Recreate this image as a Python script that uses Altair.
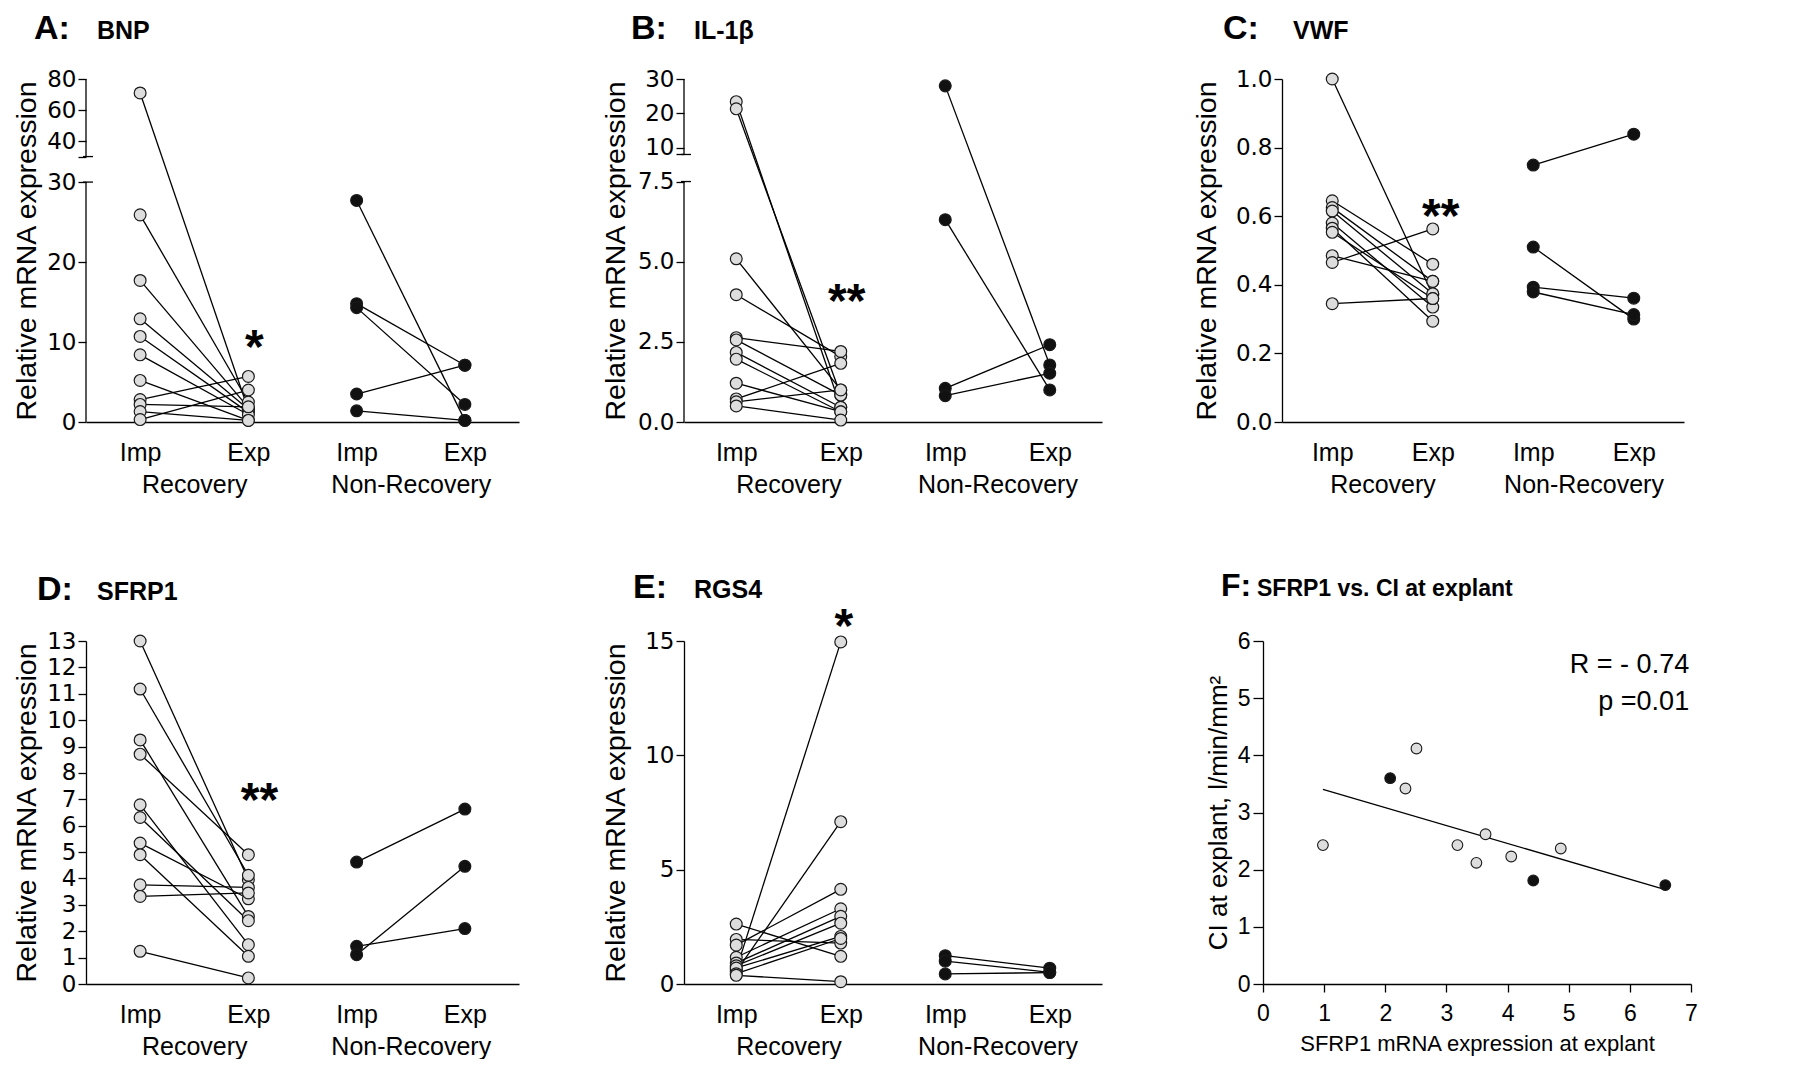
import altair as alt
import pandas as pd

FONT = "Liberation Sans"
TICKFONT = "DejaVu Sans"

# ---------------- data ----------------
time_labels = ["Imp", "Exp"]
group_labels = ["Recovery", "Non-Recovery"]

# A: BNP
bnp_rec_imp = [71, 25.9, 17.7, 12.9, 10.7, 8.4, 5.2, 2.8, 2.2, 1.3, 0.3]
bnp_rec_exp = [1.5, 2.5, 1.8, 1.6, 1.2, 0.9, 0.2, 5.7, 1.9, 0.2, 4.0]
bnp_nr_imp = [27.7, 14.8, 14.3, 3.5, 1.4]
bnp_nr_exp = [0.2, 7.1, 2.2, 7.1, 0.2]

# B: IL-1beta
il_rec_imp = [23.4, 21.3, 5.09, 3.97, 2.63, 2.56, 2.17, 1.96, 1.21, 0.72, 0.63, 0.5]
il_rec_exp = [0.46, 0.84, 1.0, 2.04, 2.2, 0.84, 0.46, 0.32, 0.32, 1.83, 1.0, 0.06]
il_nr_imp = [28, 6.31, 1.05, 0.82]
il_nr_exp = [1.78, 1.0, 2.41, 1.52]

# C: VWF
vwf_rec_imp = [1.0, 0.645, 0.625, 0.615, 0.58, 0.565, 0.553, 0.485, 0.465, 0.345]
vwf_rec_exp = [0.37, 0.46, 0.41, 0.374, 0.335, 0.294, 0.36, 0.41, 0.563, 0.36]
vwf_nr_imp = [0.749, 0.51, 0.393, 0.379]
vwf_nr_exp = [0.839, 0.30, 0.361, 0.313]

# D: SFRP1
sfrp_rec_imp = [13.0, 11.18, 9.25, 8.71, 6.79, 6.31, 5.34, 4.9, 3.76, 3.32, 1.24]
sfrp_rec_exp = [3.95, 4.12, 2.56, 4.9, 1.49, 2.4, 3.23, 1.05, 3.66, 3.45, 0.23]
sfrp_nr_imp = [4.62, 1.43, 1.11]
sfrp_nr_exp = [6.63, 2.1, 4.46]

# E: RGS4
rgs_rec_imp = [0.63, 0.55, 2.62, 1.95, 1.7, 1.17, 0.92, 0.8, 0.7, 0.45, 0.38]
rgs_rec_exp = [14.96, 7.1, 1.21, 1.79, 4.14, 3.29, 2.96, 2.66, 2.08, 1.99, 0.1]
rgs_nr_imp = [1.24, 1.0, 0.44]
rgs_nr_exp = [0.69, 0.51, 0.5]

# F: SFRP1 vs CI
f_sfrp = [0.98, 2.08, 2.33, 2.51, 3.18, 3.49, 3.64, 4.06, 4.87, 4.42, 6.58]
f_ci = [2.43, 3.60, 3.42, 4.12, 2.43, 2.12, 2.62, 2.23, 2.37, 1.81, 1.73]
f_group = ["Recovery", "Non-Recovery", "Recovery", "Recovery", "Recovery", "Recovery",
           "Recovery", "Recovery", "Recovery", "Non-Recovery", "Non-Recovery"]
f_stats = ["R = - 0.74", "p =0.01"]
f_stats_pos_x = [6.97, 6.97]
f_stats_pos_y = [5.44, 4.79]

panel_letters = ["A:", "B:", "C:", "D:", "E:", "F:"]
panel_genes = ["BNP", "IL-1\u03b2", "VWF", "SFRP1", "RGS4", "SFRP1 vs. CI at explant"]
star_labels = ["*", "**", "**", "**", "*"]
star_values = [10.9, 4.16, 0.636, 7.42, 16.17]

# ---------------- helpers ----------------
REC_FILL = "#dddddd"
NR_FILL = "#111111"
XEXPR = (
    f"datum.value == 0 || datum.value == 2 ? '{time_labels[0]}' : "
    f"(datum.value == 1 || datum.value == 3 ? '{time_labels[1]}' : "
    f"(datum.value == 0.5 ? [' ', '{group_labels[0]}'] : [' ', '{group_labels[1]}']))"
)


def pairs_df(rec_imp, rec_exp, nr_imp, nr_exp):
    rows = []
    for gi, (imp, exp) in enumerate([(rec_imp, rec_exp), (nr_imp, nr_exp)]):
        for i, (a, b) in enumerate(zip(imp, exp)):
            pid = f"{gi}-{i}"
            rows.append({"pid": pid, "group": group_labels[gi], "pos": 2 * gi, "value": a})
            rows.append({"pid": pid, "group": group_labels[gi], "pos": 2 * gi + 1, "value": b})
    return pd.DataFrame(rows)


def disp(v, brk):
    if brk is None or v <= brk["L"]:
        return v
    return brk["G"] + (v - brk["U"]) * brk["k"]


def title_layers(idx, lx, gx, ty, letter_size=34, gene_size=25, font=FONT):
    letter = alt.Chart(pd.DataFrame({"t": [panel_letters[idx]]})).mark_text(
        align="left", baseline="alphabetic", font=font, fontSize=letter_size,
        fontWeight="bold", color="black"
    ).encode(x=alt.value(lx), y=alt.value(ty), text="t:N")
    gene = alt.Chart(pd.DataFrame({"t": [panel_genes[idx]]})).mark_text(
        align="left", baseline="alphabetic", font=font, fontSize=gene_size,
        fontWeight="bold", color="black"
    ).encode(x=alt.value(gx), y=alt.value(ty), text="t:N")
    return [letter, gene]


def paired_panel(idx, df, lower_ticks, fmt, top, brk=None, upper_ticks=None,
                 width=433, height=343, title_pad=4, lx=-52, gx=11, ty=-40, star_dx=6):
    if brk is None:
        disp_expr = "datum.value"
        ymax = top
        yvals = lower_ticks
    else:
        L, U, G, k = brk["L"], brk["U"], brk["G"], brk["k"]
        disp_expr = f"datum.value <= {L} ? datum.value : {G} + (datum.value - {U}) * {k}"
        ymax = disp(top, brk)
        yvals = list(lower_ticks) + [G] + [round(disp(u, brk), 6) for u in upper_ticks]

    xscale = alt.Scale(domain=[-0.5, 3.5], nice=False, zero=False)
    yscale = alt.Scale(domain=[0, ymax], nice=False, zero=False)
    xaxis = alt.Axis(values=[0, 0.5, 1, 2, 2.5, 3], labelExpr=XEXPR, ticks=False, grid=False,
                     labelOverlap=False, labelFlush=False, labelPadding=18, labelLineHeight=32,
                     labelFontSize=25, title=None, domainWidth=1.3)
    ykw = dict(values=yvals, grid=False, tickSize=8, tickWidth=1.3, labelPadding=2,
               minExtent=45, maxExtent=45, title="Relative mRNA expression",
               titlePadding=title_pad, titleFontSize=28.5, titleFontWeight="normal",
               labelFont=TICKFONT, labelFontSize=23, domain=brk is None, domainWidth=1.3,
               labelOverlap=False)
    if brk is None:
        ykw["format"] = fmt
    else:
        ykw["labelExpr"] = (
            f"datum.value <= {L + 1e-6} ? format(datum.value, '{fmt}') : "
            f"(datum.value < {G + 1e-6} ? '' : format({U} + (datum.value - {G}) / {k}, '.0f'))"
        )
    yaxis = alt.Axis(**ykw)
    X = alt.X("pos:Q", scale=xscale, axis=xaxis)
    Y = alt.Y("d:Q", scale=yscale, axis=yaxis)

    base = alt.Chart(df).transform_calculate(d=disp_expr)
    lines = base.mark_line(color="black", strokeWidth=1.3).encode(x=X, y=Y, detail="pid:N")
    pts = base.mark_circle(size=140, stroke="#1a1a1a", strokeWidth=1.2, opacity=1).encode(
        x=X, y=Y,
        fill=alt.Fill("group:N", scale=alt.Scale(domain=group_labels, range=[REC_FILL, NR_FILL]),
                      legend=None),
    )
    layers = [lines, pts]
    if brk is not None:
        seg = pd.DataFrame({"d": [0, G], "d2": [L, ymax]})
        layers.append(alt.Chart(seg).mark_rule(color="black", strokeWidth=1.3).encode(
            x=alt.value(0), y=Y, y2="d2:Q"))
        marks = pd.DataFrame({"d": [L, G]})
        layers.append(alt.Chart(marks).mark_rule(color="black", strokeWidth=1.3).encode(
            x=alt.value(-3), x2=alt.value(7), y=Y))
    star = alt.Chart(pd.DataFrame({"pos": [1], "value": [star_values[idx]],
                                   "label": [star_labels[idx]]})).transform_calculate(
        d=disp_expr).mark_text(font=FONT, fontSize=48, fontWeight="bold", baseline="alphabetic",
                               dy=28, dx=star_dx, color="black").encode(x=X, y=Y, text="label:N")
    layers.append(star)
    layers += title_layers(idx, lx, gx, ty)
    return alt.layer(*layers).properties(width=width, height=height)


A = paired_panel(0, pairs_df(bnp_rec_imp, bnp_rec_exp, bnp_nr_imp, bnp_nr_exp),
                 [0, 10, 20, 30], "d", 80, brk={"L": 30, "U": 30, "G": 33.19, "k": 0.194},
                 upper_ticks=[40, 60, 80], width=433, title_pad=0, lx=-52, gx=11, ty=-40, star_dx=6)
B = paired_panel(1, pairs_df(il_rec_imp, il_rec_exp, il_nr_imp, il_nr_exp),
                 [0, 2.5, 5, 7.5], ".1f", 30, brk={"L": 7.5, "U": 8, "G": 8.344, "k": 0.107},
                 upper_ticks=[10, 20, 30], width=418, title_pad=9, lx=-53, gx=10, ty=-40, star_dx=6)
C = paired_panel(2, pairs_df(vwf_rec_imp, vwf_rec_exp, vwf_nr_imp, vwf_nr_exp),
                 [0, 0.2, 0.4, 0.6, 0.8, 1.0], ".1f", 1.0, width=402, title_pad=16,
                 lx=-59, gx=11, ty=-40, star_dx=8)
D = paired_panel(3, pairs_df(sfrp_rec_imp, sfrp_rec_exp, sfrp_nr_imp, sfrp_nr_exp),
                 list(range(0, 14)), "d", 13, width=433, title_pad=0, lx=-49, gx=11, ty=-41,
                 star_dx=11)
E = paired_panel(4, pairs_df(rgs_rec_imp, rgs_rec_exp, rgs_nr_imp, rgs_nr_exp),
                 [0, 5, 10, 15], "d", 15, width=418, title_pad=9, lx=-51, gx=10, ty=-43, star_dx=3)

# ---------------- panel F ----------------
fdf = pd.DataFrame({"sfrp": f_sfrp, "ci": f_ci, "group": f_group})
FX = alt.X("sfrp:Q", scale=alt.Scale(domain=[0, 7], nice=False, zero=False),
           axis=alt.Axis(values=list(range(8)), grid=False, tickSize=8, tickWidth=1.3,
                         labelPadding=10, labelFontSize=23, labelFlush=False,
                         title="SFRP1 mRNA expression at explant",
                         titleFontSize=22, titleFontWeight="normal", titlePadding=8,
                         domainWidth=1.3))
FY = alt.Y("ci:Q", scale=alt.Scale(domain=[0, 6], nice=False, zero=False),
           axis=alt.Axis(values=list(range(7)), grid=False, tickSize=10, tickWidth=1.3,
                         labelPadding=3, labelFontSize=23, minExtent=28,
                         maxExtent=28, title="CI at explant, l/min/mm\u00b2", titleFontSize=26,
                         titlePadding=4, titleFontWeight="normal", domainWidth=1.3))
f_reg = alt.Chart(fdf).transform_regression("sfrp", "ci").mark_line(
    color="black", strokeWidth=1.3).encode(x=FX, y=FY)
f_pts = alt.Chart(fdf).mark_circle(size=115, stroke="#1a1a1a", strokeWidth=1.1, opacity=1).encode(
    x=FX, y=FY,
    fill=alt.Fill("group:N", scale=alt.Scale(domain=group_labels, range=[REC_FILL, "#3a3a3a"]),
                  legend=None))
f_txt = alt.Chart(pd.DataFrame({"sfrp": f_stats_pos_x, "ci": f_stats_pos_y, "t": f_stats})).mark_text(
    align="right", baseline="alphabetic", font=FONT, fontSize=27, color="black"
).encode(x=FX, y=FY, text="t:N")
F = alt.layer(f_reg, f_pts, f_txt, *title_layers(5, -42, -6, -45, letter_size=32, gene_size=23)
              ).properties(width=428, height=343)

top = alt.hconcat(alt.hconcat(A, B, spacing=82), C, spacing=90)
bottom = alt.hconcat(alt.hconcat(D, E, spacing=82), F, spacing=103)
chart = alt.vconcat(top, bottom, spacing=73).properties(
    padding={"left": 4, "top": 4, "right": 0, "bottom": 0}, background="white"
).configure_view(stroke=None).configure_axis(
    labelColor="black", titleColor="black", domainColor="black", tickColor="black",
    labelFont=FONT, titleFont=FONT
)

chart.save("out.html", embed_options={"renderer": "svg", "actions": False})
